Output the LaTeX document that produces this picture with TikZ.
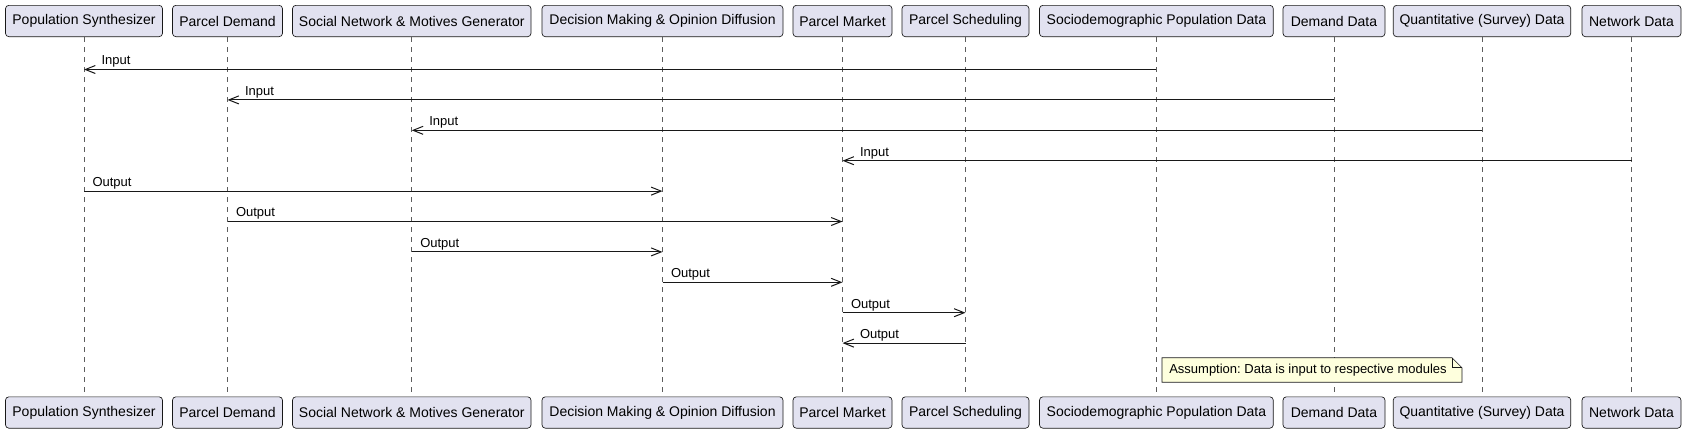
\documentclass[tikz,border=0pt]{standalone}
\usepackage{fontspec}
\setmainfont{Liberation Sans}
\usetikzlibrary{arrows.meta}
\frenchspacing

\definecolor{partfill}{HTML}{E2E2F0}
\definecolor{umlline}{HTML}{181818}
\definecolor{notefill}{HTML}{FEFFDD}

\begin{document}
\begin{tikzpicture}[
      x=0.75pt, y=-0.75pt,
      font=\fontsize{9.75pt}{11pt}\selectfont,
      part/.style={draw=umlline,line width=0.5pt,rounded corners=2.5pt,fill=partfill,minimum height=23.5pt,inner xsep=0pt,font=\fontsize{10.5pt}{12pt}\selectfont},
      life/.style={draw=umlline!70,line width=0.5pt,dash pattern=on 3.75pt off 3.75pt},
      msg/.style={-{Straight Barb[length=7.5pt,width=6pt]},draw=umlline,line width=0.75pt},
      outlab/.style={anchor=base west,xshift=6pt,yshift=3.4pt,inner sep=0pt},
      inlab/.style={anchor=base west,xshift=12.75pt,yshift=3.4pt,inner sep=0pt},
      notebox/.style={fill=notefill,anchor=west,inner xsep=5.25pt,inner ysep=0pt,minimum height=18pt},
      ]
    \useasboundingbox (0,0) rectangle (1686,433);

    % Participants, top row
    \node[part,minimum width=117.75pt] (popT) at (84,21) {Population Synthesizer};
    \node[part,minimum width=82.5pt] (demT) at (227.5,21) {Parcel Demand};
    \node[part,minimum width=178.9pt] (socT) at (411.75,21) {Social Network \& Motives Generator};
    \node[part,minimum width=180.75pt] (decT) at (662.5,21) {Decision Making \& Opinion Diffusion};
    \node[part,minimum width=74.25pt] (mktT) at (842.5,21) {Parcel Market};
    \node[part,minimum width=95.25pt] (schT) at (965.5,21) {Parcel Scheduling};
    \node[part,minimum width=175.35pt] (sdpT) at (1156.4,21) {Sociodemographic Population Data};
    \node[part,minimum width=76.5pt] (ddT) at (1334,21) {Demand Data};
    \node[part,minimum width=133.1pt] (qsdT) at (1482,21) {Quantitative (Survey) Data};
    \node[part,minimum width=74.25pt] (netT) at (1631.5,21) {Network Data};

    % Participants, bottom row
    \node[part,minimum width=117.75pt] (popB) at (84,412.5) {Population Synthesizer};
    \node[part,minimum width=82.5pt] (demB) at (227.5,412.5) {Parcel Demand};
    \node[part,minimum width=178.9pt] (socB) at (411.75,412.5) {Social Network \& Motives Generator};
    \node[part,minimum width=180.75pt] (decB) at (662.5,412.5) {Decision Making \& Opinion Diffusion};
    \node[part,minimum width=74.25pt] (mktB) at (842.5,412.5) {Parcel Market};
    \node[part,minimum width=95.25pt] (schB) at (965.5,412.5) {Parcel Scheduling};
    \node[part,minimum width=175.35pt] (sdpB) at (1156.4,412.5) {Sociodemographic Population Data};
    \node[part,minimum width=76.5pt] (ddB) at (1334,412.5) {Demand Data};
    \node[part,minimum width=133.1pt] (qsdB) at (1482,412.5) {Quantitative (Survey) Data};
    \node[part,minimum width=74.25pt] (netB) at (1631.5,412.5) {Network Data};

    % Lifelines
    \path[life] (popT) edge (popB) (demT) edge (demB) (socT) edge (socB)
      (decT) edge (decB) (mktT) edge (mktB) (schT) edge (schB)
      (sdpT) edge (sdpB) (ddT) edge (ddB) (qsdT) edge (qsdB) (netT) edge (netB);

    % Message rows
    \coordinate (m1) at (0,69.5);
    \coordinate (m2) at (0,99.9);
    \coordinate (m3) at (0,130.3);
    \coordinate (m4) at (0,160.7);
    \coordinate (m5) at (0,191.1);
    \coordinate (m6) at (0,221.5);
    \coordinate (m7) at (0,251.9);
    \coordinate (m8) at (0,282.3);
    \coordinate (m9) at (0,312.7);
    \coordinate (m10) at (0,343.1);

    % Data inputs
    \draw[msg] (sdpT |- m1) -- (popT |- m1) node[inlab] {Input};
    \draw[msg] (ddT |- m2) -- (demT |- m2) node[inlab] {Input};
    \draw[msg] (qsdT |- m3) -- (socT |- m3) node[inlab] {Input};
    \draw[msg] (netT |- m4) -- (mktT |- m4) node[inlab] {Input};

    % Module outputs
    \draw[msg] (popT |- m5) node[outlab] {Output} -- (decT |- m5);
    \draw[msg] (demT |- m6) node[outlab] {Output} -- (mktT |- m6);
    \draw[msg] (socT |- m7) node[outlab] {Output} -- (decT |- m7);
    \draw[msg] (decT |- m8) node[outlab] {Output} -- (mktT |- m8);
    \draw[msg] (mktT |- m9) node[outlab] {Output} -- (schT |- m9);
    \draw[msg] (schT |- m10) -- (mktT |- m10) node[inlab] {Output};

    % Note with folded corner
    \node[notebox] (note) at (1162,370) {Assumption: Data is input to respective modules\kern6pt};
    \fill[white] ([xshift=-7.5pt]note.north east) -- (note.north east) -- ([yshift=-7.5pt]note.north east) -- cycle;
    \draw[draw=umlline,line width=0.5pt] (note.north west) -- ([xshift=-7.5pt]note.north east)
      -- ([yshift=-7.5pt]note.north east) -- (note.south east) -- (note.south west) -- cycle;
    \draw[draw=umlline,line width=0.5pt] ([xshift=-7.5pt]note.north east) |- ([yshift=-7.5pt]note.north east);

  \end{tikzpicture}
\end{document}
